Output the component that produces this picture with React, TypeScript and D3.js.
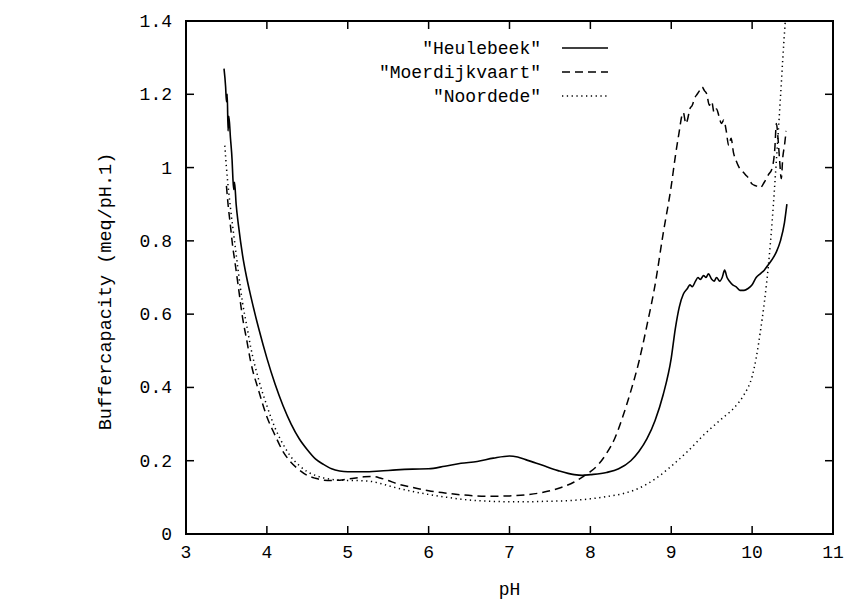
import React from "react";
import * as d3 from "d3";

const xTicks = [3, 4, 5, 6, 7, 8, 9, 10, 11];
const yTicks = [0, 0.2, 0.4, 0.6, 0.8, 1, 1.2, 1.4];
const seriesNames = ['"Heulebeek"', '"Moerdijkvaart"', '"Noordede"'];

const heulebeekPH = [3.47,3.49,3.5,3.51,3.52,3.53,3.55,3.57,3.58,3.59,3.6,3.62,3.65,3.7,3.75,3.8,3.9,4.0,4.1,4.2,4.3,4.4,4.5,4.6,4.7,4.8,4.9,5.0,5.2,5.4,5.6,5.8,6.0,6.2,6.4,6.6,6.8,7.0,7.1,7.2,7.4,7.6,7.8,7.9,8.0,8.2,8.35,8.5,8.6,8.7,8.8,8.9,9.0,9.05,9.1,9.15,9.2,9.23,9.26,9.3,9.33,9.36,9.4,9.43,9.46,9.5,9.53,9.56,9.6,9.63,9.66,9.69,9.72,9.76,9.8,9.85,9.9,9.95,10.0,10.05,10.1,10.15,10.2,10.25,10.3,10.35,10.4,10.43];
const heulebeekVal = [1.27,1.22,1.18,1.2,1.1,1.14,1.08,1.02,0.97,0.94,0.96,0.9,0.84,0.76,0.7,0.65,0.56,0.48,0.41,0.35,0.3,0.26,0.23,0.205,0.19,0.178,0.172,0.17,0.17,0.172,0.175,0.177,0.178,0.185,0.193,0.198,0.207,0.213,0.21,0.203,0.188,0.173,0.162,0.16,0.162,0.168,0.178,0.2,0.225,0.26,0.31,0.38,0.48,0.56,0.62,0.655,0.67,0.68,0.675,0.69,0.7,0.695,0.705,0.7,0.71,0.695,0.69,0.7,0.69,0.7,0.72,0.7,0.69,0.68,0.675,0.665,0.665,0.67,0.68,0.7,0.71,0.72,0.735,0.75,0.77,0.8,0.85,0.9];

const moerdijkPH = [3.5,3.52,3.55,3.58,3.6,3.65,3.7,3.75,3.8,3.9,4.0,4.1,4.2,4.3,4.4,4.5,4.6,4.7,4.8,4.9,5.0,5.1,5.2,5.3,5.4,5.5,5.6,5.8,6.0,6.2,6.4,6.6,6.8,7.0,7.2,7.4,7.6,7.8,7.9,8.0,8.1,8.2,8.3,8.4,8.5,8.6,8.7,8.8,8.9,9.0,9.05,9.1,9.13,9.15,9.18,9.2,9.23,9.26,9.29,9.32,9.35,9.38,9.41,9.44,9.47,9.5,9.53,9.56,9.59,9.62,9.65,9.68,9.71,9.74,9.77,9.8,9.84,9.88,9.92,9.96,10.0,10.05,10.1,10.15,10.2,10.25,10.28,10.3,10.32,10.34,10.36,10.38,10.4,10.42];
const moerdijkVal = [0.95,0.9,0.84,0.78,0.75,0.67,0.59,0.53,0.47,0.39,0.32,0.27,0.225,0.195,0.175,0.16,0.152,0.147,0.146,0.147,0.15,0.153,0.156,0.157,0.153,0.146,0.138,0.127,0.118,0.112,0.107,0.104,0.103,0.104,0.107,0.113,0.124,0.142,0.155,0.17,0.19,0.22,0.26,0.32,0.39,0.47,0.57,0.68,0.82,0.95,1.03,1.1,1.14,1.15,1.12,1.13,1.16,1.17,1.19,1.2,1.21,1.22,1.21,1.2,1.17,1.18,1.15,1.16,1.14,1.12,1.13,1.1,1.06,1.08,1.04,1.02,1.0,0.99,0.98,0.97,0.955,0.95,0.945,0.96,0.98,1.0,1.05,1.12,1.08,1.02,0.97,1.03,1.06,1.1];

const noordedePH = [3.48,3.5,3.55,3.6,3.65,3.7,3.75,3.8,3.9,4.0,4.1,4.2,4.3,4.4,4.5,4.6,4.7,4.8,4.9,5.0,5.1,5.2,5.3,5.4,5.6,5.8,6.0,6.2,6.4,6.6,6.8,7.0,7.2,7.4,7.6,7.8,8.0,8.2,8.4,8.6,8.8,9.0,9.2,9.4,9.6,9.8,9.9,10.0,10.05,10.1,10.15,10.2,10.25,10.3,10.35,10.38,10.41];
const noordedeVal = [1.06,1.0,0.89,0.8,0.71,0.63,0.57,0.51,0.42,0.35,0.29,0.245,0.21,0.187,0.17,0.16,0.153,0.149,0.147,0.146,0.146,0.145,0.143,0.138,0.126,0.116,0.108,0.101,0.095,0.091,0.089,0.088,0.088,0.089,0.09,0.092,0.096,0.102,0.11,0.125,0.15,0.185,0.225,0.27,0.31,0.35,0.38,0.43,0.48,0.55,0.63,0.73,0.86,1.02,1.19,1.3,1.4];

const FONT = "'Liberation Mono', 'DejaVu Sans Mono', monospace";

export default function App() {
  const W = 849, H = 600;
  const x = d3.scaleLinear().domain([3, 11]).range([186, 833]);
  const y = d3.scaleLinear().domain([0, 1.4]).range([534, 21]);

  const line = d3
    .line<[number, number]>()
    .x((d) => x(d[0]))
    .y((d) => y(Math.min(d[1], 1.4)))
    .curve(d3.curveMonotoneX);

  const series = [
    { name: seriesNames[0], ph: heulebeekPH, val: heulebeekVal, dash: "none", w: 1.6 },
    { name: seriesNames[1], ph: moerdijkPH, val: moerdijkVal, dash: "8,5", w: 1.5 },
    { name: seriesNames[2], ph: noordedePH, val: noordedeVal, dash: "1.3,3.5", w: 1.5 },
  ];

  const [x0, x1] = x.range();
  const [yb, yt] = y.range();
  const tickLen = 8;
  const fmt = (v: number) => (v === 0 ? "0" : v === 1 ? "1" : d3.format(".1f")(v));

  return (
    <svg width={W} height={H} style={{ position: "absolute", left: 0, top: 0, background: "#fff" }}>
      <rect x={0} y={0} width={W} height={H} fill="#fff" />
      <defs>
        <clipPath id="plot">
          <rect x={x0} y={yt} width={x1 - x0} height={yb - yt} />
        </clipPath>
      </defs>
      <g clipPath="url(#plot)">
        {series.map((s) => (
          <path
            key={s.name}
            d={line(s.ph.map((p, i) => [p, s.val[i]] as [number, number])) || ""}
            fill="none"
            stroke="#000"
            strokeWidth={s.w}
            strokeDasharray={s.dash}
          />
        ))}
      </g>
      {xTicks.map((t) => (
        <g key={"x" + t}>
          <line x1={x(t)} x2={x(t)} y1={yb} y2={yb - tickLen} stroke="#000" strokeWidth={1.5} />
          <line x1={x(t)} x2={x(t)} y1={yt} y2={yt + tickLen} stroke="#000" strokeWidth={1.5} />
          <text x={x(t)} y={yb + 24} textAnchor="middle" fontFamily={FONT} fontSize={18} fill="#000">
            {t}
          </text>
        </g>
      ))}
      {yTicks.map((t) => (
        <g key={"y" + t}>
          <line x1={x0} x2={x0 + tickLen} y1={y(t)} y2={y(t)} stroke="#000" strokeWidth={1.5} />
          <line x1={x1} x2={x1 - tickLen} y1={y(t)} y2={y(t)} stroke="#000" strokeWidth={1.5} />
          <text x={172} y={y(t) + 6} textAnchor="end" fontFamily={FONT} fontSize={18} fill="#000">
            {fmt(t)}
          </text>
        </g>
      ))}
      <rect x={x0} y={yt} width={x1 - x0} height={yb - yt} fill="none" stroke="#000" strokeWidth={2} />
      <text x={(x0 + x1) / 2} y={595} textAnchor="middle" fontFamily={FONT} fontSize={18} fill="#000">
        pH
      </text>
      <text
        transform={`translate(111, ${(yt + yb) / 2 + 14}) rotate(-90)`}
        textAnchor="middle"
        fontFamily={FONT}
        fontSize={18.5}
        fill="#000"
      >
        Buffercapacity (meq/pH.1)
      </text>
      {series.map((s, i) => (
        <g key={"leg" + i}>
          <text x={541} y={54 + i * 24} textAnchor="end" fontFamily={FONT} fontSize={18} fill="#000">
            {s.name}
          </text>
          <line x1={562} x2={608} y1={48 + i * 24} y2={48 + i * 24} stroke="#000" strokeWidth={s.w} strokeDasharray={s.dash} />
        </g>
      ))}
    </svg>
  );
}
